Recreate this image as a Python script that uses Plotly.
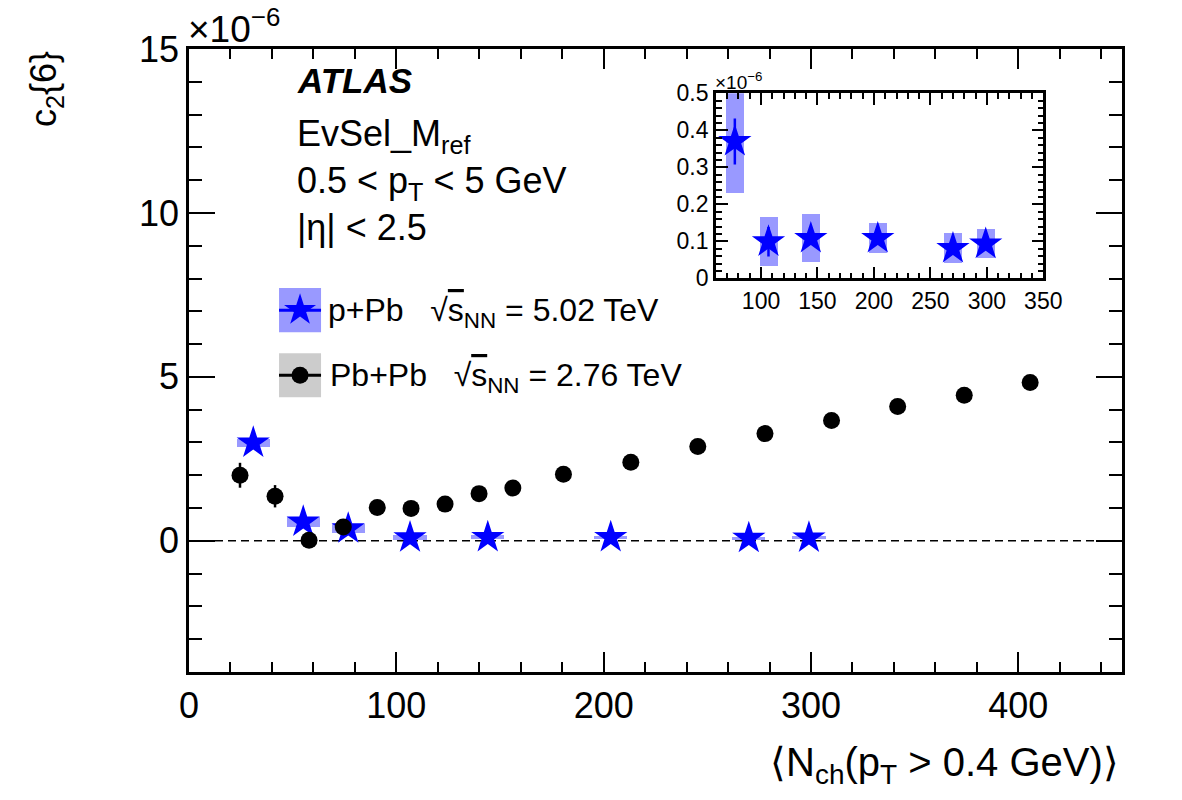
import plotly.graph_objects as go

FONT = "Liberation Sans"

# ---------------- data (c2{6} in units of 1e-6) ----------------
# Pb+Pb  sqrt(sNN) = 2.76 TeV
pbpb_nch = [24.6, 41.5, 57.9, 74.4, 90.8, 107.1, 123.5, 139.9, 156.2, 180.6,
            213.1, 245.4, 277.8, 309.9, 341.8, 373.9, 405.7]
pbpb_c26 = [2.00, 1.36, 0.02, 0.42, 1.02, 0.99, 1.12, 1.44, 1.61, 2.03,
            2.40, 2.88, 3.27, 3.67, 4.10, 4.44, 4.83]
pbpb_stat = [0.38, 0.34, 0.20, 0.12, 0.10, 0.08, 0.07, 0.06, 0.06, 0.05,
             0.05, 0.05, 0.05, 0.05, 0.05, 0.05, 0.05]

# p+Pb  sqrt(sNN) = 5.02 TeV
ppb_nch = [31.0, 55.1, 76.8, 106.6, 144.1, 203.4, 270.0, 299.0]
ppb_c26 = [2.99, 0.58, 0.37, 0.099, 0.108, 0.108, 0.081, 0.093]
ppb_stat = [0.10, 0.10, 0.062, 0.040, 0.015, 0.015, 0.015, 0.015]
ppb_sys = [0.13, 0.15, 0.14, 0.065, 0.065, 0.040, 0.040, 0.040]
SYS_WIDTH = 16  # width of systematic boxes in N_ch units

# inset shows the p+Pb points from index 2 on
INSET_FIRST = 2

# ---------------- layout geometry ----------------
W, H = 1182, 800
L, R, T, B = 189, 1121.7, 49, 671.7   # main frame in pixels
PW, PH = R - L, B - T


def px(x):
    return (x - L) / PW


def py(y):
    return (B - y) / PH


BOX_COLOR = "rgba(0,0,255,0.4)"

fig = go.Figure()

# systematic boxes (main)
fig.add_trace(go.Bar(
    x=ppb_nch, y=[2 * s for s in ppb_sys],
    base=[v - s for v, s in zip(ppb_c26, ppb_sys)],
    width=SYS_WIDTH, marker=dict(color=BOX_COLOR, line=dict(width=0)),
    xaxis="x", yaxis="y", showlegend=False, hoverinfo="skip"))

# p+Pb stars (main)
fig.add_trace(go.Scatter(
    x=ppb_nch, y=ppb_c26, mode="markers",
    marker=dict(symbol="star", size=25, color="#0000ff", line=dict(width=0)),
    error_y=dict(type="data", array=ppb_stat, color="#0000ff", thickness=2.5, width=0),
    xaxis="x", yaxis="y", showlegend=False))

# Pb+Pb circles (main)
fig.add_trace(go.Scatter(
    x=pbpb_nch, y=pbpb_c26, mode="markers",
    marker=dict(symbol="circle", size=17, color="black", line=dict(width=0)),
    error_y=dict(type="data", array=pbpb_stat, color="black", thickness=2.5, width=0),
    xaxis="x", yaxis="y", showlegend=False))

# ---------------- inset ----------------
ins_x = ppb_nch[INSET_FIRST:]
ins_y = ppb_c26[INSET_FIRST:]
ins_stat = ppb_stat[INSET_FIRST:]
ins_sys = ppb_sys[INSET_FIRST:]

fig.add_trace(go.Bar(
    x=ins_x, y=[2 * s for s in ins_sys],
    base=[v - s for v, s in zip(ins_y, ins_sys)],
    width=SYS_WIDTH, marker=dict(color=BOX_COLOR, line=dict(width=0)),
    xaxis="x2", yaxis="y2", showlegend=False, hoverinfo="skip"))
fig.add_trace(go.Scatter(
    x=ins_x, y=ins_y, mode="markers",
    marker=dict(symbol="star", size=25, color="#0000ff", line=dict(width=0)),
    error_y=dict(type="data", array=ins_stat, color="#0000ff", thickness=2.5, width=0),
    xaxis="x2", yaxis="y2", showlegend=False))

# ---------------- legend symbols (overlay axis in 0..1 paper-like units) ----------------
leg_star = (px(300), py(310))
leg_circ = (px(300), py(375))
fig.add_trace(go.Scatter(
    x=[leg_star[0]], y=[leg_star[1]], mode="markers",
    marker=dict(symbol="star", size=24, color="#0000ff"),
    xaxis="x3", yaxis="y3", showlegend=False, hoverinfo="skip"))
fig.add_trace(go.Scatter(
    x=[leg_circ[0]], y=[leg_circ[1]], mode="markers",
    marker=dict(symbol="circle", size=17, color="black"),
    xaxis="x3", yaxis="y3", showlegend=False, hoverinfo="skip"))

shapes = []
# zero line
shapes.append(dict(type="line", xref="x", yref="y", x0=0, x1=450, y0=0, y1=0,
                   line=dict(color="black", width=1.5, dash="8px,5px"), layer="below"))
# legend boxes and lines
shapes.append(dict(type="rect", xref="paper", yref="paper",
                   x0=px(279), x1=px(321), y0=py(332), y1=py(288),
                   fillcolor=BOX_COLOR, line=dict(width=0), layer="below"))
shapes.append(dict(type="line", xref="paper", yref="paper",
                   x0=px(279), x1=px(321), y0=py(310), y1=py(310),
                   line=dict(color="#0000ff", width=3), layer="below"))
shapes.append(dict(type="rect", xref="paper", yref="paper",
                   x0=px(279), x1=px(321), y0=py(397), y1=py(353),
                   fillcolor="rgba(0,0,0,0.2)", line=dict(width=0), layer="below"))
shapes.append(dict(type="line", xref="paper", yref="paper",
                   x0=px(279), x1=px(321), y0=py(375), y1=py(375),
                   line=dict(color="black", width=3), layer="below"))

annotations = []


def ann(text, x, y, size, xanchor="left", yanchor="middle", **kw):
    annotations.append(dict(text=text, x=px(x), y=py(y), xref="paper", yref="paper",
                            xanchor=xanchor, yanchor=yanchor, showarrow=False,
                            font=dict(family=FONT, size=size, color="black"), **kw))


SQ = "√<span style='text-decoration:overline'>s</span><sub>NN</sub>"
ann("<b><i>ATLAS</i></b>", 295, 80, 35)
ann("EvSel_M<sub>ref</sub>", 295, 136, 36)
ann("0.5 < p<sub>T</sub> < 5 GeV", 295, 183, 36)
ann("|η| < 2.5", 295, 227, 36)
ann("p+Pb\u00a0\u00a0\u00a0" + SQ + " = 5.02 TeV", 326, 312, 32)
ann("Pb+Pb\u00a0\u00a0\u00a0" + SQ + " = 2.76 TeV", 328, 377, 32)
# exponent labels
ann("×10<sup>−6</sup>", 186, 27, 37, yanchor="middle")
ann("×10<sup>−6</sup>", 713, 81, 19, yanchor="middle")
# axis titles
ann("⟨N<sub>ch</sub>(p<sub>T</sub> > 0.4 GeV)⟩", 1121, 765, 40, xanchor="right")
ann("c<sub>2</sub>{6}", 46, 49, 36, xanchor="center", yanchor="top", textangle=-90)

# inset geometry
IL, IR, IT, IB = 715.7, 1043.0, 93.3, 278.3

axis_common = dict(showgrid=False, zeroline=False, showline=True, linecolor="black",
                   mirror="ticks", ticks="inside", tickcolor="black")

fig.update_layout(
    width=W, height=H,
    margin=dict(l=L, r=W - R, t=T, b=H - B, pad=0),
    paper_bgcolor="white", plot_bgcolor="white",
    barmode="overlay", bargap=0,
    font=dict(family=FONT, color="black"),
    xaxis=dict(domain=[0, 1], range=[0, 450], tickvals=[0, 100, 200, 300, 400],
               ticklen=20, tickwidth=2, linewidth=2.5,
               minor=dict(dtick=20, tick0=0, ticklen=10, tickwidth=2, ticks="inside", tickcolor="black"),
               tickfont=dict(size=36, family=FONT), anchor="y", **axis_common),
    yaxis=dict(domain=[0, 1], range=[-4, 15], tickvals=[0, 5, 10, 15],
               ticklen=26, tickwidth=2, linewidth=2.5,
               minor=dict(dtick=1, tick0=0, ticklen=13, tickwidth=2, ticks="inside", tickcolor="black"),
               tickfont=dict(size=36, family=FONT), anchor="x", **axis_common),
    xaxis2=dict(domain=[px(IL), px(IR)], range=[60, 350],
                tickvals=[100, 150, 200, 250, 300, 350],
                ticklen=12, tickwidth=1.5, linewidth=2.5,
                minor=dict(dtick=10, tick0=0, ticklen=6, tickwidth=1.5, ticks="inside", tickcolor="black"),
                tickfont=dict(size=23, family=FONT), anchor="y2", **axis_common),
    yaxis2=dict(domain=[py(IB), py(IT)], range=[0, 0.5],
                tickvals=[0, 0.1, 0.2, 0.3, 0.4, 0.5],
                ticktext=["0", "0.1", "0.2", "0.3", "0.4", "0.5"],
                ticklen=12, tickwidth=1.5, linewidth=2.5,
                minor=dict(dtick=0.02, tick0=0, ticklen=6, tickwidth=1.5, ticks="inside", tickcolor="black"),
                tickfont=dict(size=23, family=FONT), anchor="x2", **axis_common),
    xaxis3=dict(domain=[0, 1], range=[0, 1], visible=False, anchor="y3", overlaying="x"),
    yaxis3=dict(domain=[0, 1], range=[0, 1], visible=False, anchor="x3", overlaying="y"),
    shapes=shapes,
    annotations=annotations,
    showlegend=False,
)

fig.write_html("out.html")
